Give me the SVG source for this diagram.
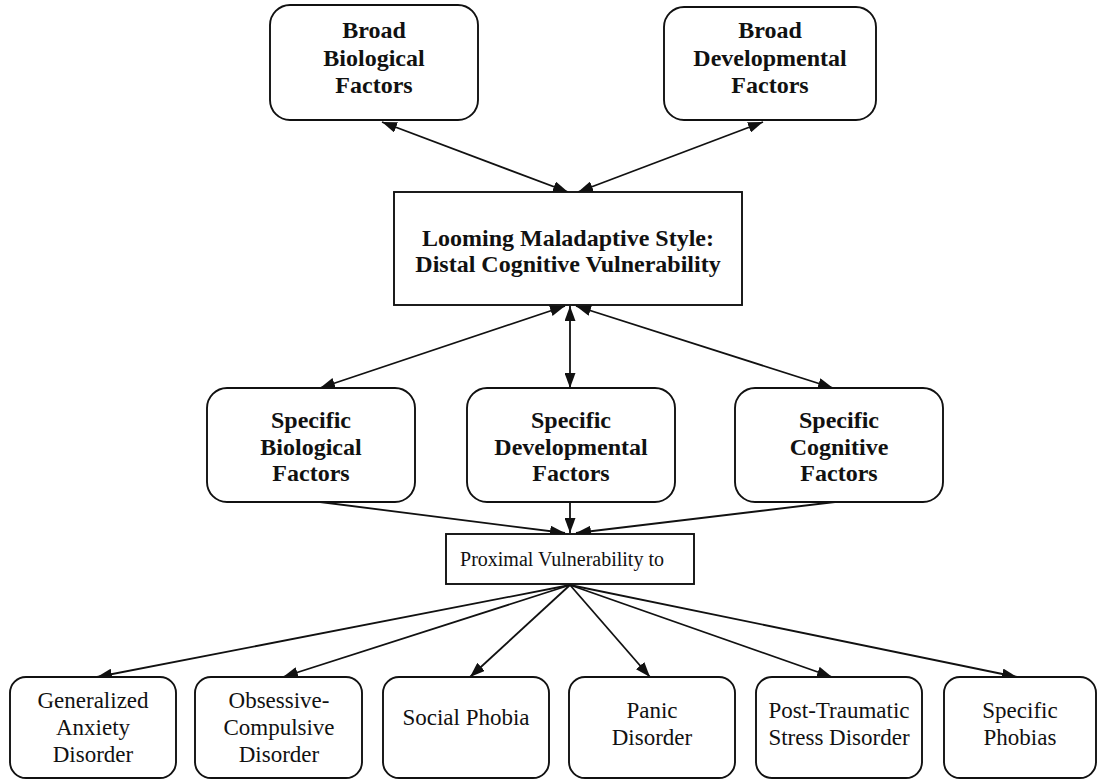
<svg xmlns="http://www.w3.org/2000/svg" width="1098" height="781" viewBox="0 0 1098 781">
  <style>
    .box { fill: #ffffff; stroke: #111111; stroke-width: 1.9; }
    .lbl { font-family: "Liberation Serif", "Times New Roman", serif; fill: #111111; text-anchor: middle; }
    .b { font-weight: bold; font-size: 24px; }
    .r { font-size: 23px; }
    .p { font-size: 20px; }
    .con line { stroke: #111111; stroke-width: 1.8; }
    .two { marker-start: url(#ah); marker-end: url(#ah); }
    .one { marker-end: url(#ah); }
  </style>
  <defs>
    <marker id="ah" viewBox="0 0 15 11" refX="15" refY="5.5" markerWidth="15" markerHeight="11" markerUnits="userSpaceOnUse" orient="auto-start-reverse">
      <path d="M0,0 L15,5.5 L0,11 z" fill="#111111"/>
    </marker>
  </defs>
  <rect width="1098" height="781" fill="#ffffff"/>

  <!-- connectors -->
  <g id="connectors" class="con">
    <line class="two" x1="382" y1="122" x2="568" y2="192"/>
    <line class="two" x1="763" y1="122" x2="578" y2="192"/>
    <line class="two" x1="565" y1="306" x2="320" y2="388"/>
    <line class="two" x1="570" y1="306" x2="570" y2="388"/>
    <line class="two" x1="576" y1="306" x2="833" y2="388"/>
    <line class="one" x1="320" y1="502" x2="565" y2="533"/>
    <line class="one" x1="570" y1="502" x2="570" y2="533"/>
    <line class="one" x1="835" y1="502" x2="576" y2="533"/>
    <line class="one" x1="570" y1="585" x2="97" y2="677"/>
    <line class="one" x1="570" y1="585" x2="283" y2="677"/>
    <line class="one" x1="570" y1="585" x2="470" y2="677"/>
    <line class="one" x1="570" y1="585" x2="650" y2="677"/>
    <line class="one" x1="570" y1="585" x2="832" y2="677"/>
    <line class="one" x1="570" y1="585" x2="1017" y2="677"/>
  </g>

  <!-- distal factors -->
  <g id="broad-biological">
    <rect class="box" x="270" y="5" width="208" height="115" rx="20"/>
    <text class="lbl b" x="374"><tspan x="374" y="38">Broad</tspan><tspan x="374" y="66">Biological</tspan><tspan x="374" y="93">Factors</tspan></text>
  </g>
  <g id="broad-developmental">
    <rect class="box" x="664" y="7" width="212" height="113" rx="20"/>
    <text class="lbl b" x="770"><tspan x="770" y="38">Broad</tspan><tspan x="770" y="66">Developmental</tspan><tspan x="770" y="93">Factors</tspan></text>
  </g>

  <g id="looming">
    <rect class="box" x="394" y="192" width="348" height="113"/>
    <text class="lbl b" x="568"><tspan x="568" y="246">Looming Maladaptive Style:</tspan><tspan x="568" y="272">Distal Cognitive Vulnerability</tspan></text>
  </g>

  <!-- specific factors -->
  <g id="specific-biological">
    <rect class="box" x="207" y="388" width="208" height="114" rx="20"/>
    <text class="lbl b" x="311"><tspan x="311" y="428">Specific</tspan><tspan x="311" y="455">Biological</tspan><tspan x="311" y="481">Factors</tspan></text>
  </g>
  <g id="specific-developmental">
    <rect class="box" x="467" y="388" width="208" height="114" rx="20"/>
    <text class="lbl b" x="571"><tspan x="571" y="428">Specific</tspan><tspan x="571" y="455">Developmental</tspan><tspan x="571" y="481">Factors</tspan></text>
  </g>
  <g id="specific-cognitive">
    <rect class="box" x="735" y="388" width="208" height="114" rx="20"/>
    <text class="lbl b" x="839"><tspan x="839" y="428">Specific</tspan><tspan x="839" y="455">Cognitive</tspan><tspan x="839" y="481">Factors</tspan></text>
  </g>

  <g id="proximal">
    <rect class="box" x="446" y="534" width="248" height="50"/>
    <text class="lbl p" x="562" y="566">Proximal Vulnerability to</text>
  </g>

  <!-- disorders -->
  <g id="gad">
    <rect class="box" x="10" y="677" width="166" height="101" rx="16"/>
    <text class="lbl r" x="93"><tspan x="93" y="708">Generalized</tspan><tspan x="93" y="735">Anxiety</tspan><tspan x="93" y="762">Disorder</tspan></text>
  </g>
  <g id="ocd">
    <rect class="box" x="195" y="677" width="167" height="101" rx="16"/>
    <text class="lbl r" x="279"><tspan x="279" y="708">Obsessive-</tspan><tspan x="279" y="735">Compulsive</tspan><tspan x="279" y="762">Disorder</tspan></text>
  </g>
  <g id="social-phobia">
    <rect class="box" x="383" y="677" width="166" height="101" rx="16"/>
    <text class="lbl r" x="466" y="725">Social Phobia</text>
  </g>
  <g id="panic">
    <rect class="box" x="569" y="677" width="166" height="101" rx="16"/>
    <text class="lbl r" x="652"><tspan x="652" y="718">Panic</tspan><tspan x="652" y="745">Disorder</tspan></text>
  </g>
  <g id="ptsd">
    <rect class="box" x="756" y="677" width="166" height="101" rx="16"/>
    <text class="lbl r" x="839"><tspan x="839" y="718">Post-Traumatic</tspan><tspan x="839" y="745">Stress Disorder</tspan></text>
  </g>
  <g id="specific-phobias">
    <rect class="box" x="944" y="677" width="152" height="101" rx="16"/>
    <text class="lbl r" x="1020"><tspan x="1020" y="718">Specific</tspan><tspan x="1020" y="745">Phobias</tspan></text>
  </g>
</svg>
